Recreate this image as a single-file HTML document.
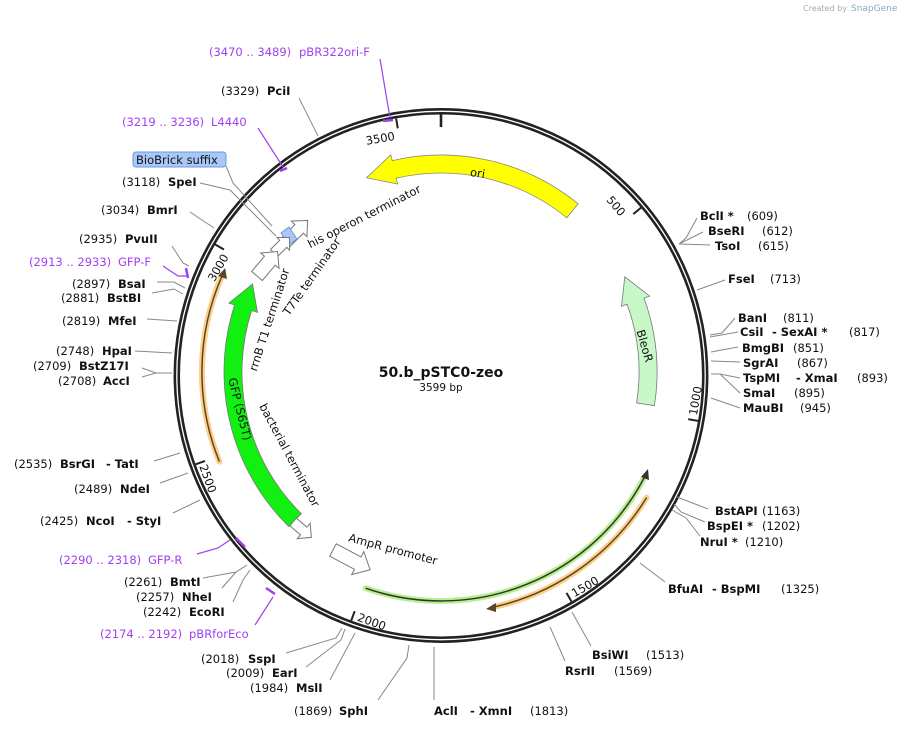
<!DOCTYPE html>
<html><head><meta charset="utf-8"><style>
html,body{margin:0;padding:0;background:#fff;}
svg{display:block;}
text{font-family:"DejaVu Sans","Liberation Sans",sans-serif;font-size:11.5px;fill:#111;}
.b{font-weight:bold;}
.p{fill:#a040f0;}
.ln{stroke:#888;stroke-width:1;fill:none;}
.pl{stroke:#a040f0;stroke-width:1.2;fill:none;}
.pm{stroke:#a040f0;stroke-width:2.5;fill:none;}
.fa{fill:#fff;stroke:#777;stroke-width:1;}
.tk{stroke:#222;stroke-width:2;}
</style></head><body>
<svg width="900" height="729" viewBox="0 0 900 729" xmlns="http://www.w3.org/2000/svg">
<rect width="900" height="729" fill="#fff"/>
<text x="803" y="11" style="font-size:8px;fill:#aaa">Created by</text>
<text x="851" y="11" style="font-size:9px;fill:#8ab">SnapGene</text>

<circle cx="441" cy="375.5" r="264.2" fill="none" stroke="#222" stroke-width="6.5"/>
<circle cx="441" cy="375.5" r="264.2" fill="none" stroke="#fff" stroke-width="1.3"/>

<line x1="441" y1="114" x2="441" y2="127" stroke="#222" stroke-width="2.6"/>
<line class="tk" x1="641" y1="207.7" x2="633.3" y2="214.1"/>
<line class="tk" x1="698.1" y1="420.9" x2="688.2" y2="419.2"/>
<line class="tk" x1="571.5" y1="601.5" x2="566.5" y2="592.9"/>
<line class="tk" x1="351.2" y1="620.6" x2="354.7" y2="611.2"/>
<line class="tk" x1="195.7" y1="464.3" x2="205" y2="460.9"/>
<line class="tk" x1="215.2" y1="244.5" x2="223.9" y2="249.5"/>
<line class="tk" x1="396.1" y1="118.4" x2="397.8" y2="128.3"/>
<text x="395.4" y="139.8" text-anchor="end" transform="rotate(-10 395.4 139.8)">3500</text>
<text x="620" y="217" text-anchor="end" transform="rotate(50 620 217)">500</text>
<text x="696.9" y="415.9" transform="rotate(-80 696.9 415.9)">1000</text>
<text x="574.4" y="597.5" transform="rotate(-30 574.4 597.5)">1500</text>
<text x="356.6" y="620.5" transform="rotate(20 356.6 620.5)">2000</text>
<text x="199.1" y="466.2" transform="rotate(70 199.1 466.2)">2500</text>
<text x="229" y="257" text-anchor="end" transform="rotate(-60 229 257)">3000</text>

<path d="M578.1 203.8 A217 217 0 0 0 392.2 160.6 L390.8 154.8 L366.5 177.8 L397.6 184 L396.2 178.2 A199 199 0 0 1 566.8 217.8 Z" fill="#ffff00" stroke="#888" stroke-width="0.8"/>
<text x="477" y="177" text-anchor="middle" transform="rotate(9 477 177)">ori</text>
<path d="M654.4 405.7 A216 216 0 0 0 644 298.1 L649.7 296.1 L624.8 276.8 L621.5 306.3 L627.1 304.3 A198 198 0 0 1 636.6 402.9 Z" fill="#c8f8c8" stroke="#777" stroke-width="0.8"/>
<text x="641" y="347" text-anchor="middle" transform="rotate(74 641 347)">BleoR</text>
<path d="M288.7 526.5 A217 217 0 0 1 234.6 305 L228.9 303.1 L252.5 284 L257.5 312.4 L251.7 310.5 A199 199 0 0 0 301.3 513.7 Z" fill="#11f011" stroke="#777" stroke-width="0.8"/>
<text x="236" y="410" text-anchor="middle" transform="rotate(76 236 410)">GFP (S65T)</text>

<path d="M219.4 461.6 A239 239 0 0 1 222 276" fill="none" stroke="#fdd08a" stroke-width="6" stroke-linecap="round"/>
<path d="M219.4 461.6 A239 239 0 0 1 222 276" fill="none" stroke="#5a4528" stroke-width="1.5"/>
<polygon points="225.2,268 218,276 227,279" fill="#5a4528"/>
<path d="M646.6 497.6 A241 241 0 0 1 494 607" fill="none" stroke="#fdd08a" stroke-width="6" stroke-linecap="round"/>
<path d="M646.6 497.6 A241 241 0 0 1 494 607" fill="none" stroke="#5a4528" stroke-width="1.5"/>
<polygon points="486,609 496,603 496,612" fill="#5a4528"/>
<path d="M365.7 588.2 A229 229 0 0 0 644 478" fill="none" stroke="#b8f090" stroke-width="6" stroke-linecap="round"/>
<path d="M365.7 588.2 A229 229 0 0 0 644 478" fill="none" stroke="#333" stroke-width="1.5"/>
<polygon points="648,469 641,477 649,480" fill="#333"/>

<polygon class="fa" transform="translate(285 243) rotate(-45)" points="0,-6 20,-6 20,-11 32,0 20,11 20,6 0,6"/>
<polygon points="281,233 289,227 297,239 289,245" fill="#a8c8f8" stroke="#6a8ac8" stroke-width="0.8"/>
<polygon class="fa" transform="translate(274 253) rotate(-45)" points="0,-5 13,-5 13,-9 22,0 13,9 13,5 0,5"/>
<polygon class="fa" transform="translate(257 276) rotate(-50)" points="0,-7 20,-7 20,-12 32,0 20,12 20,7 0,7"/>
<polygon class="fa" transform="translate(293 522) rotate(40)" points="0,-5 14,-5 14,-10 24,0 14,10 14,5 0,5"/>
<polygon class="fa" transform="translate(333 550) rotate(28)" points="0,-7 28,-7 28,-13 42,0 28,13 28,7 0,7"/>
<text x="366" y="220" text-anchor="middle" transform="rotate(-27 366 220)">his operon terminator</text>
<text x="315" y="279" text-anchor="middle" transform="rotate(-55 315 279)">T7Te terminator</text>
<text x="273" y="321" text-anchor="middle" transform="rotate(-72 273 321)">rrnB T1 terminator</text>
<text x="286" y="457" text-anchor="middle" transform="rotate(62 286 457)">bacterial terminator</text>
<text x="392" y="553" text-anchor="middle" transform="rotate(15 392 553)">AmpR promoter</text>

<text x="441" y="377" text-anchor="middle" class="b" style="font-size:14px">50.b_pSTC0-zeo</text>
<text x="441" y="391" text-anchor="middle" style="font-size:10.5px">3599 bp</text>

<g class="ln">
<polyline points="299,98 318,136"/>
<polyline points="226,166 233,183 272,226"/>
<polyline points="200,183 230,190 276,236"/>
<polyline points="190,212 214,228"/>
<polyline points="172,246 183,263 189,266"/>
<polyline points="157,282 174,282 185,288"/>
<polyline points="152,293 174,289 183,294"/>
<polyline points="147,319 177,321"/>
<polyline points="135,351 172,353"/>
<polyline points="142,368 156,373 172,373"/>
<polyline points="142,377 156,373"/>
<polyline points="154,461 180,453"/>
<polyline points="160,483 188,473"/>
<polyline points="173,513 200,500"/>
<polyline points="203,578 236,572 247,565"/>
<polyline points="222,588 236,572"/>
<polyline points="233,602 243,580 250,570"/>
<polyline points="286,653 336,638 342,628"/>
<polyline points="306,667 341,640 345,629"/>
<polyline points="330,680 355,633"/>
<polyline points="378,700 407,658 409,645"/>
<polyline points="434,700 434,647"/>
<polyline points="565,661 550,627"/>
<polyline points="591,646 572,612"/>
<polyline points="665,582 640,563"/>
<polyline points="708,509 677,497"/>
<polyline points="705,522 681,512 674,504"/>
<polyline points="700,536 686,518 672,510"/>
<polyline points="697,218 686,238 679,244"/>
<polyline points="703,232 679,244"/>
<polyline points="710,245 679,244"/>
<polyline points="725,280 697,290"/>
<polyline points="735,318 722,333 710,335"/>
<polyline points="738,332 710,337"/>
<polyline points="738,347 711,352"/>
<polyline points="740,362 711,361"/>
<polyline points="740,378 720,374 711,374"/>
<polyline points="740,393 720,374"/>
<polyline points="740,408 711,398"/>
</g>
<g>
<polyline class="pl" points="380,59 390,118"/><line class="pm" x1="383" y1="121" x2="393" y2="120"/>
<polyline class="pl" points="258,128 283,167"/><line class="pm" x1="280" y1="171" x2="287" y2="168"/>
<polyline class="pl" points="163,266 178,276 187,276"/><line class="pm" x1="186" y1="268" x2="188" y2="278"/>
<polyline class="pl" points="197,554 218,548 230,540"/><line class="pm" x1="236" y1="538" x2="245" y2="547"/>
<polyline class="pl" points="255,625 273,597"/><line class="pm" x1="266" y1="588" x2="275" y2="594"/>
</g>

<text x="209" y="56" class="p">(3470 .. 3489)</text><text x="299" y="56" class="p">pBR322ori-F</text>
<text x="221" y="95">(3329)</text><text x="267" y="95" class="b">PciI</text>
<text x="122" y="126" class="p">(3219 .. 3236)</text><text x="211" y="126" class="p">L4440</text>
<rect x="133" y="152" width="93" height="15" rx="3" fill="#a8c8f8" stroke="#6a9ae0" stroke-width="1"/>
<text x="136" y="164">BioBrick suffix</text>
<text x="122" y="186">(3118)</text><text x="168" y="186" class="b">SpeI</text>
<text x="101" y="214">(3034)</text><text x="147" y="214" class="b">BmrI</text>
<text x="79" y="243">(2935)</text><text x="125" y="243" class="b">PvuII</text>
<text x="29" y="266" class="p">(2913 .. 2933)</text><text x="118" y="266" class="p">GFP-F</text>
<text x="72" y="288">(2897)</text><text x="118" y="288" class="b">BsaI</text>
<text x="61" y="302">(2881)</text><text x="107" y="302" class="b">BstBI</text>
<text x="62" y="325">(2819)</text><text x="108" y="325" class="b">MfeI</text>
<text x="56" y="355">(2748)</text><text x="102" y="355" class="b">HpaI</text>
<text x="33" y="370">(2709)</text><text x="79" y="370" class="b">BstZ17I</text>
<text x="58" y="385">(2708)</text><text x="103" y="385" class="b">AccI</text>
<text x="14" y="468">(2535)</text><text x="60" y="468" class="b">BsrGI</text><text x="106" y="468" class="b">- TatI</text>
<text x="74" y="493">(2489)</text><text x="120" y="493" class="b">NdeI</text>
<text x="40" y="525">(2425)</text><text x="86" y="525" class="b">NcoI</text><text x="127" y="525" class="b">- StyI</text>
<text x="59" y="564" class="p">(2290 .. 2318)</text><text x="148" y="564" class="p">GFP-R</text>
<text x="124" y="586">(2261)</text><text x="170" y="586" class="b">BmtI</text>
<text x="136" y="601">(2257)</text><text x="182" y="601" class="b">NheI</text>
<text x="143" y="616">(2242)</text><text x="189" y="616" class="b">EcoRI</text>
<text x="100" y="638" class="p">(2174 .. 2192)</text><text x="189" y="638" class="p">pBRforEco</text>
<text x="201" y="663">(2018)</text><text x="248" y="663" class="b">SspI</text>
<text x="226" y="677">(2009)</text><text x="272" y="677" class="b">EarI</text>
<text x="250" y="692">(1984)</text><text x="296" y="692" class="b">MslI</text>
<text x="294" y="715">(1869)</text><text x="339" y="715" class="b">SphI</text>
<text x="434" y="715" class="b">AclI</text><text x="470" y="715" class="b">- XmnI</text><text x="530" y="715">(1813)</text>
<text x="565" y="675" class="b">RsrII</text><text x="614" y="675">(1569)</text>
<text x="592" y="659" class="b">BsiWI</text><text x="646" y="659">(1513)</text>
<text x="668" y="593" class="b">BfuAI</text><text x="712" y="593" class="b">- BspMI</text><text x="781" y="593">(1325)</text>
<text x="700" y="546" class="b">NruI *</text><text x="745" y="546">(1210)</text>
<text x="707" y="530" class="b">BspEI *</text><text x="762" y="530">(1202)</text>
<text x="715" y="515" class="b">BstAPI</text><text x="762" y="515">(1163)</text>
<text x="743" y="412" class="b">MauBI</text><text x="800" y="412">(945)</text>
<text x="743" y="397" class="b">SmaI</text><text x="794" y="397">(895)</text>
<text x="743" y="382" class="b">TspMI</text><text x="796" y="382" class="b">- XmaI</text><text x="857" y="382">(893)</text>
<text x="743" y="367" class="b">SgrAI</text><text x="797" y="367">(867)</text>
<text x="742" y="352" class="b">BmgBI</text><text x="793" y="352">(851)</text>
<text x="740" y="336" class="b">CsiI</text><text x="772" y="336" class="b">- SexAI *</text><text x="849" y="336">(817)</text>
<text x="738" y="322" class="b">BanI</text><text x="783" y="322">(811)</text>
<text x="728" y="283" class="b">FseI</text><text x="770" y="283">(713)</text>
<text x="715" y="250" class="b">TsoI</text><text x="758" y="250">(615)</text>
<text x="708" y="235" class="b">BseRI</text><text x="762" y="235">(612)</text>
<text x="700" y="220" class="b">BclI *</text><text x="747" y="220">(609)</text>
</svg>
</body></html>
